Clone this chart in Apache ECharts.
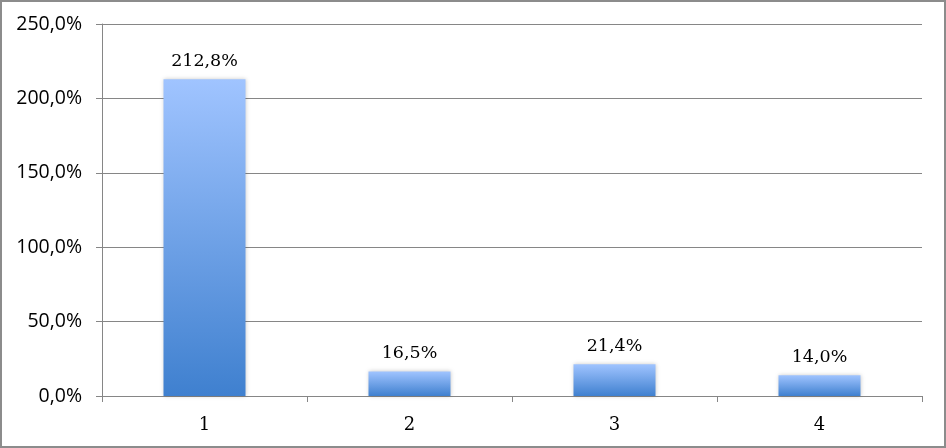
<!DOCTYPE html>
<html>
<head>
<meta charset="utf-8">
<script src="https://cdn.jsdelivr.net/npm/echarts@6/dist/echarts.min.js"></script>
<style>
  html, body { margin: 0; padding: 0; background: #fff; }
  #main { width: 946px; height: 448px; }
</style>
</head>
<body>
<div id="main"></div>
<script>
// categories and values (percent)
const categories = ["1", "2", "3", "4"];
const values = [212.8, 16.5, 21.4, 14.0];
const yTicks = [0, 50, 100, 150, 200, 250];

const fmt = (v) => v.toFixed(1).replace(".", ",") + "%";

const chart = echarts.init(document.getElementById("main"));
chart.setOption({
  backgroundColor: "#fff",
  animation: false,
  graphic: [
    {
      type: "rect",
      shape: { x: 1, y: 1, width: 944, height: 446 },
      style: { fill: "none", stroke: "#8c8c8c", lineWidth: 2 },
      silent: true,
    },
  ],
  grid: { left: 102, right: 24, top: 24, bottom: 52 },
  xAxis: {
    type: "category",
    data: categories,
    axisLine: { lineStyle: { color: "#868686" } },
    axisTick: { show: true, length: 6, lineStyle: { color: "#868686" } },
    axisLabel: {
      margin: 20,
      color: "#000",
      fontFamily: "DejaVu Serif",
      fontSize: 18,
    },
  },
  yAxis: {
    type: "value",
    min: yTicks[0],
    max: yTicks[yTicks.length - 1],
    interval: 50,
    axisLine: { show: true, lineStyle: { color: "#868686" } },
    axisTick: { show: true, length: 6, lineStyle: { color: "#868686" } },
    splitLine: { lineStyle: { color: "#868686" } },
    axisLabel: {
      margin: 20,
      color: "#000",
      fontFamily: "Open Sans",
      fontSize: 19.5,
      formatter: fmt,
    },
  },
  series: [
    {
      type: "bar",
      data: values,
      barWidth: "40%",
      itemStyle: {
        color: new echarts.graphic.LinearGradient(0, 0, 0, 1, [
          { offset: 0, color: "#a0c4ff" },
          { offset: 1, color: "#3f80cf" },
        ]),
        shadowBlur: 4,
        shadowColor: "rgba(0,0,0,0.2)",
      },
      label: {
        show: true,
        position: "top",
        distance: 9,
        color: "#000",
        fontFamily: "DejaVu Serif",
        fontSize: 17.5,
        formatter: (p) => fmt(p.value),
      },
    },
  ],
});
</script>
</body>
</html>
